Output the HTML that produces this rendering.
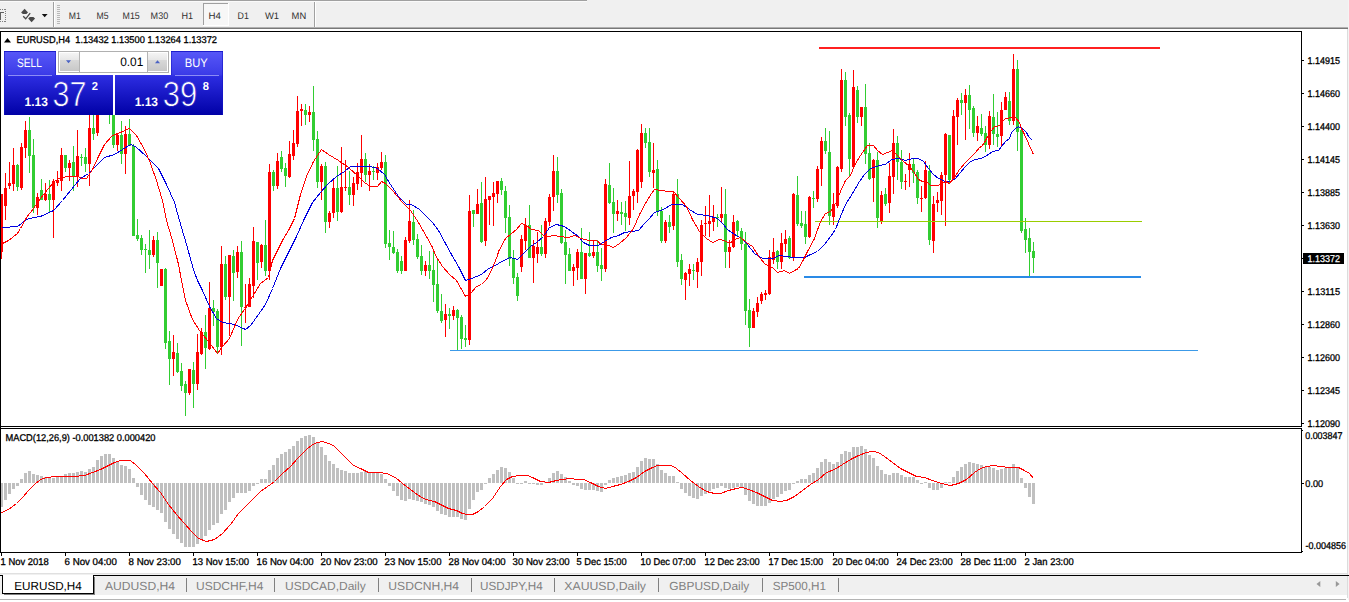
<!DOCTYPE html>
<html lang="en"><head><meta charset="utf-8"><title>EURUSD,H4</title>
<style>html,body{margin:0;padding:0;background:#fff;overflow:hidden}body{width:1349px;height:602px;font-family:"Liberation Sans",sans-serif}</style>
</head><body>
<svg width="1349" height="602" viewBox="0 0 1349 602" text-rendering="geometricPrecision" style="display:block;font-family:'Liberation Sans',sans-serif;text-rendering:geometricPrecision">
<defs>
<linearGradient id="gb" x1="0" y1="0" x2="0" y2="1"><stop offset="0" stop-color="#4a4aee"/><stop offset="0.45" stop-color="#2a2adc"/><stop offset="1" stop-color="#0000a8"/></linearGradient>
<linearGradient id="gbt" x1="0" y1="0" x2="0" y2="1"><stop offset="0" stop-color="#5050f0"/><stop offset="1" stop-color="#3a3ae4"/></linearGradient>
<linearGradient id="gbl" x1="0" y1="0" x2="0" y2="1"><stop offset="0" stop-color="#3030e0"/><stop offset="1" stop-color="#0000a8"/></linearGradient>
<linearGradient id="gsp" x1="0" y1="0" x2="0" y2="1"><stop offset="0" stop-color="#f4f4f4"/><stop offset="0.36" stop-color="#e8e8e8"/><stop offset="0.41" stop-color="#d8d8d8"/><stop offset="1" stop-color="#c8c8c8"/></linearGradient>
<linearGradient id="gbu" gradientUnits="userSpaceOnUse" x1="0" y1="51" x2="0" y2="115"><stop offset="0" stop-color="#5858f8"/><stop offset="0.36" stop-color="#3c3ce8"/><stop offset="0.40" stop-color="#2c2ce0"/><stop offset="1" stop-color="#0000a6"/></linearGradient>
<clipPath id="cpm"><rect x="1" y="32" width="1300" height="394"/></clipPath>
<clipPath id="cpi"><rect x="1" y="429" width="1300" height="123"/></clipPath>
</defs>
<rect x="0" y="0" width="1349" height="602" fill="#ffffff"/>
<g shape-rendering="crispEdges">
<rect x="0" y="0" width="1349" height="27" fill="#f0f0f0"/>
<rect x="0" y="0" width="587" height="1" fill="#a0a0a0"/>
<rect x="0" y="1" width="587" height="1" fill="#fafafa"/>
<rect x="0" y="27" width="1348" height="1" fill="#b0b0b0"/>
<rect x="0" y="28" width="1348" height="1" fill="#787878"/>
<rect x="0" y="29" width="1348" height="2" fill="#ffffff"/>
<rect x="1347" y="29" width="1" height="569" fill="#dcdcdc"/>
<rect x="1348" y="0" width="1" height="602" fill="#f4f4f4"/>
<rect x="53" y="2" width="1" height="25" fill="#a0a0a0"/>
<rect x="54" y="2" width="1" height="25" fill="#ffffff"/>
<rect x="314" y="2" width="1" height="25" fill="#a0a0a0"/>
<rect x="315" y="2" width="1" height="25" fill="#ffffff"/>
<rect x="57" y="5" width="3" height="1" fill="#b8b8b8"/>
<rect x="57" y="7" width="3" height="1" fill="#b8b8b8"/>
<rect x="57" y="9" width="3" height="1" fill="#b8b8b8"/>
<rect x="57" y="11" width="3" height="1" fill="#b8b8b8"/>
<rect x="57" y="13" width="3" height="1" fill="#b8b8b8"/>
<rect x="57" y="15" width="3" height="1" fill="#b8b8b8"/>
<rect x="57" y="17" width="3" height="1" fill="#b8b8b8"/>
<rect x="57" y="19" width="3" height="1" fill="#b8b8b8"/>
<rect x="57" y="21" width="3" height="1" fill="#b8b8b8"/>
<rect x="57" y="23" width="3" height="1" fill="#b8b8b8"/>
<rect x="203" y="3" width="26" height="23" fill="#f7f7f7"/>
<rect x="203" y="3" width="26" height="1" fill="#a0a0a0"/>
<rect x="203" y="3" width="1" height="23" fill="#a0a0a0"/>
<rect x="228" y="3" width="1" height="23" fill="#ffffff"/>
<rect x="203" y="25" width="26" height="1" fill="#ffffff"/>
<rect x="5" y="9" width="1" height="1" fill="#808080"/>
<rect x="5" y="11" width="1" height="1" fill="#808080"/>
<rect x="5" y="13" width="1" height="1" fill="#808080"/>
<rect x="5" y="15" width="1" height="1" fill="#808080"/>
<rect x="5" y="17" width="1" height="1" fill="#808080"/>
<rect x="5" y="19" width="1" height="1" fill="#808080"/>
<rect x="5" y="21" width="1" height="1" fill="#808080"/>
<rect x="0" y="9" width="1" height="1" fill="#808080"/>
<rect x="0" y="21" width="1" height="1" fill="#808080"/>
<rect x="2" y="9" width="1" height="1" fill="#808080"/>
<rect x="2" y="21" width="1" height="1" fill="#808080"/>
<rect x="4" y="9" width="1" height="1" fill="#808080"/>
<rect x="4" y="21" width="1" height="1" fill="#808080"/>
<rect x="0" y="12" width="4" height="1" fill="#606060"/>
<rect x="0" y="12" width="1" height="8" fill="#606060"/>
</g>
<g fill="#484848">
<path d="M24.6 8.8 L28 12.4 L26.4 14 L22.8 14 L21.1 12.4 Z"/>
<path d="M31.6 22.2 L28.2 18.6 L29.8 17.1 L33.4 17.1 L35.1 18.6 Z"/>
<path d="M23.2 16.3 L25.7 18.8 L30.2 13.2" fill="none" stroke="#484848" stroke-width="1.3"/>
<path d="M41.8 14 L47.6 14 L44.7 17.2 Z" fill="#101010"/>
</g>
<text x="68.7" y="19" font-size="9.6" fill="#303030" textLength="12.0" lengthAdjust="spacingAndGlyphs">M1</text>
<text x="96.6" y="19" font-size="9.6" fill="#303030" textLength="12.0" lengthAdjust="spacingAndGlyphs">M5</text>
<text x="122.6" y="19" font-size="9.6" fill="#303030" textLength="17.2" lengthAdjust="spacingAndGlyphs">M15</text>
<text x="150.6" y="19" font-size="9.6" fill="#303030" textLength="17.6" lengthAdjust="spacingAndGlyphs">M30</text>
<text x="181.5" y="19" font-size="9.6" fill="#303030" textLength="11.6" lengthAdjust="spacingAndGlyphs">H1</text>
<text x="208.6" y="19" font-size="9.6" fill="#303030" textLength="12.4" lengthAdjust="spacingAndGlyphs">H4</text>
<text x="237.6" y="19" font-size="9.6" fill="#303030" textLength="11.3" lengthAdjust="spacingAndGlyphs">D1</text>
<text x="264.9" y="19" font-size="9.6" fill="#303030" textLength="14.2" lengthAdjust="spacingAndGlyphs">W1</text>
<text x="291.6" y="19" font-size="9.6" fill="#303030" textLength="14.6" lengthAdjust="spacingAndGlyphs">MN</text>
<g shape-rendering="crispEdges" fill="#000000">
<rect x="0" y="31" width="1302" height="1"/>
<rect x="0" y="31" width="1" height="522"/>
<rect x="1301" y="31" width="1" height="522"/>
<rect x="0" y="426" width="1302" height="1"/>
<rect x="0" y="428" width="1302" height="1"/>
<rect x="0" y="552" width="1302" height="1"/>
</g>
<g clip-path="url(#cpm)" shape-rendering="crispEdges">
<rect x="1" y="194" width="1" height="65" fill="#ff0000"/>
<rect x="0" y="194" width="3" height="58" fill="#ff0000"/>
<rect x="5" y="173" width="1" height="47" fill="#ff0000"/>
<rect x="4" y="188" width="3" height="18" fill="#ff0000"/>
<rect x="9" y="162" width="1" height="27" fill="#ff0000"/>
<rect x="8" y="183" width="3" height="3" fill="#ff0000"/>
<rect x="13" y="148" width="1" height="43" fill="#ff0000"/>
<rect x="12" y="165" width="3" height="19" fill="#ff0000"/>
<rect x="17" y="164" width="1" height="27" fill="#32cd32"/>
<rect x="16" y="165" width="3" height="22" fill="#32cd32"/>
<rect x="21" y="143" width="1" height="47" fill="#ff0000"/>
<rect x="20" y="147" width="3" height="41" fill="#ff0000"/>
<rect x="25" y="121" width="1" height="37" fill="#ff0000"/>
<rect x="24" y="130" width="3" height="18" fill="#ff0000"/>
<rect x="29" y="117" width="1" height="56" fill="#32cd32"/>
<rect x="28" y="130" width="3" height="26" fill="#32cd32"/>
<rect x="33" y="139" width="1" height="74" fill="#32cd32"/>
<rect x="32" y="155" width="3" height="53" fill="#32cd32"/>
<rect x="37" y="193" width="1" height="22" fill="#ff0000"/>
<rect x="36" y="197" width="3" height="11" fill="#ff0000"/>
<rect x="41" y="179" width="1" height="21" fill="#32cd32"/>
<rect x="40" y="190" width="3" height="10" fill="#32cd32"/>
<rect x="45" y="183" width="1" height="18" fill="#ff0000"/>
<rect x="44" y="194" width="3" height="6" fill="#ff0000"/>
<rect x="49" y="180" width="1" height="32" fill="#32cd32"/>
<rect x="48" y="194" width="3" height="6" fill="#32cd32"/>
<rect x="53" y="179" width="1" height="59" fill="#ff0000"/>
<rect x="52" y="181" width="3" height="19" fill="#ff0000"/>
<rect x="57" y="171" width="1" height="15" fill="#ff0000"/>
<rect x="56" y="180" width="3" height="3" fill="#ff0000"/>
<rect x="61" y="148" width="1" height="43" fill="#ff0000"/>
<rect x="60" y="155" width="3" height="26" fill="#ff0000"/>
<rect x="65" y="155" width="1" height="17" fill="#32cd32"/>
<rect x="64" y="155" width="3" height="13" fill="#32cd32"/>
<rect x="69" y="160" width="1" height="21" fill="#ff0000"/>
<rect x="68" y="163" width="3" height="5" fill="#ff0000"/>
<rect x="73" y="146" width="1" height="45" fill="#32cd32"/>
<rect x="72" y="162" width="3" height="14" fill="#32cd32"/>
<rect x="77" y="130" width="1" height="57" fill="#ff0000"/>
<rect x="76" y="156" width="3" height="20" fill="#ff0000"/>
<rect x="81" y="154" width="1" height="12" fill="#32cd32"/>
<rect x="80" y="157" width="3" height="1" fill="#32cd32"/>
<rect x="85" y="148" width="1" height="24" fill="#32cd32"/>
<rect x="84" y="157" width="3" height="7" fill="#32cd32"/>
<rect x="89" y="100" width="1" height="86" fill="#ff0000"/>
<rect x="88" y="128" width="3" height="36" fill="#ff0000"/>
<rect x="93" y="100" width="1" height="40" fill="#32cd32"/>
<rect x="92" y="128" width="3" height="6" fill="#32cd32"/>
<rect x="97" y="100" width="1" height="36" fill="#ff0000"/>
<rect x="96" y="105" width="3" height="28" fill="#ff0000"/>
<rect x="101" y="95" width="1" height="17" fill="#32cd32"/>
<rect x="100" y="100" width="3" height="10" fill="#32cd32"/>
<rect x="105" y="95" width="1" height="17" fill="#ff0000"/>
<rect x="104" y="100" width="3" height="10" fill="#ff0000"/>
<rect x="109" y="95" width="1" height="29" fill="#32cd32"/>
<rect x="108" y="100" width="3" height="12" fill="#32cd32"/>
<rect x="113" y="100" width="1" height="48" fill="#32cd32"/>
<rect x="112" y="105" width="3" height="40" fill="#32cd32"/>
<rect x="117" y="133" width="1" height="18" fill="#ff0000"/>
<rect x="116" y="135" width="3" height="10" fill="#ff0000"/>
<rect x="121" y="121" width="1" height="43" fill="#32cd32"/>
<rect x="120" y="135" width="3" height="19" fill="#32cd32"/>
<rect x="125" y="126" width="1" height="48" fill="#ff0000"/>
<rect x="124" y="134" width="3" height="20" fill="#ff0000"/>
<rect x="129" y="119" width="1" height="27" fill="#32cd32"/>
<rect x="128" y="134" width="3" height="12" fill="#32cd32"/>
<rect x="133" y="144" width="1" height="92" fill="#32cd32"/>
<rect x="132" y="146" width="3" height="90" fill="#32cd32"/>
<rect x="137" y="219" width="1" height="22" fill="#32cd32"/>
<rect x="136" y="235" width="3" height="4" fill="#32cd32"/>
<rect x="141" y="235" width="1" height="20" fill="#32cd32"/>
<rect x="140" y="238" width="3" height="12" fill="#32cd32"/>
<rect x="145" y="244" width="1" height="29" fill="#32cd32"/>
<rect x="144" y="249" width="3" height="1" fill="#32cd32"/>
<rect x="149" y="230" width="1" height="39" fill="#32cd32"/>
<rect x="148" y="250" width="3" height="5" fill="#32cd32"/>
<rect x="153" y="236" width="1" height="21" fill="#ff0000"/>
<rect x="152" y="240" width="3" height="15" fill="#ff0000"/>
<rect x="157" y="232" width="1" height="56" fill="#32cd32"/>
<rect x="156" y="240" width="3" height="23" fill="#32cd32"/>
<rect x="161" y="269" width="1" height="17" fill="#ff0000"/>
<rect x="160" y="269" width="3" height="17" fill="#ff0000"/>
<rect x="165" y="268" width="1" height="81" fill="#32cd32"/>
<rect x="164" y="269" width="3" height="74" fill="#32cd32"/>
<rect x="169" y="331" width="1" height="54" fill="#32cd32"/>
<rect x="168" y="341" width="3" height="18" fill="#32cd32"/>
<rect x="173" y="335" width="1" height="41" fill="#ff0000"/>
<rect x="172" y="352" width="3" height="7" fill="#ff0000"/>
<rect x="177" y="343" width="1" height="30" fill="#32cd32"/>
<rect x="176" y="353" width="3" height="19" fill="#32cd32"/>
<rect x="181" y="363" width="1" height="28" fill="#32cd32"/>
<rect x="180" y="371" width="3" height="15" fill="#32cd32"/>
<rect x="185" y="381" width="1" height="35" fill="#32cd32"/>
<rect x="184" y="384" width="3" height="9" fill="#32cd32"/>
<rect x="189" y="369" width="1" height="26" fill="#ff0000"/>
<rect x="188" y="369" width="3" height="24" fill="#ff0000"/>
<rect x="193" y="362" width="1" height="46" fill="#32cd32"/>
<rect x="192" y="370" width="3" height="14" fill="#32cd32"/>
<rect x="197" y="334" width="1" height="56" fill="#ff0000"/>
<rect x="196" y="352" width="3" height="32" fill="#ff0000"/>
<rect x="201" y="328" width="1" height="27" fill="#ff0000"/>
<rect x="200" y="332" width="3" height="22" fill="#ff0000"/>
<rect x="205" y="315" width="1" height="54" fill="#32cd32"/>
<rect x="204" y="332" width="3" height="16" fill="#32cd32"/>
<rect x="209" y="282" width="1" height="68" fill="#ff0000"/>
<rect x="208" y="308" width="3" height="41" fill="#ff0000"/>
<rect x="213" y="300" width="1" height="26" fill="#32cd32"/>
<rect x="212" y="308" width="3" height="4" fill="#32cd32"/>
<rect x="217" y="309" width="1" height="45" fill="#32cd32"/>
<rect x="216" y="311" width="3" height="36" fill="#32cd32"/>
<rect x="221" y="246" width="1" height="109" fill="#ff0000"/>
<rect x="220" y="264" width="3" height="83" fill="#ff0000"/>
<rect x="225" y="256" width="1" height="44" fill="#32cd32"/>
<rect x="224" y="264" width="3" height="33" fill="#32cd32"/>
<rect x="229" y="255" width="1" height="81" fill="#ff0000"/>
<rect x="228" y="255" width="3" height="42" fill="#ff0000"/>
<rect x="233" y="250" width="1" height="51" fill="#32cd32"/>
<rect x="232" y="256" width="3" height="17" fill="#32cd32"/>
<rect x="237" y="246" width="1" height="32" fill="#ff0000"/>
<rect x="236" y="252" width="3" height="20" fill="#ff0000"/>
<rect x="241" y="241" width="1" height="105" fill="#32cd32"/>
<rect x="240" y="252" width="3" height="55" fill="#32cd32"/>
<rect x="245" y="284" width="1" height="39" fill="#ff0000"/>
<rect x="244" y="307" width="3" height="1" fill="#ff0000"/>
<rect x="249" y="278" width="1" height="29" fill="#ff0000"/>
<rect x="248" y="284" width="3" height="23" fill="#ff0000"/>
<rect x="253" y="227" width="1" height="71" fill="#ff0000"/>
<rect x="252" y="241" width="3" height="45" fill="#ff0000"/>
<rect x="257" y="242" width="1" height="38" fill="#32cd32"/>
<rect x="256" y="242" width="3" height="21" fill="#32cd32"/>
<rect x="261" y="244" width="1" height="24" fill="#ff0000"/>
<rect x="260" y="245" width="3" height="17" fill="#ff0000"/>
<rect x="265" y="220" width="1" height="56" fill="#32cd32"/>
<rect x="264" y="245" width="3" height="26" fill="#32cd32"/>
<rect x="269" y="164" width="1" height="116" fill="#ff0000"/>
<rect x="268" y="172" width="3" height="99" fill="#ff0000"/>
<rect x="273" y="170" width="1" height="21" fill="#32cd32"/>
<rect x="272" y="172" width="3" height="14" fill="#32cd32"/>
<rect x="277" y="153" width="1" height="36" fill="#ff0000"/>
<rect x="276" y="161" width="3" height="25" fill="#ff0000"/>
<rect x="281" y="151" width="1" height="21" fill="#32cd32"/>
<rect x="280" y="157" width="3" height="12" fill="#32cd32"/>
<rect x="285" y="163" width="1" height="24" fill="#32cd32"/>
<rect x="284" y="168" width="3" height="8" fill="#32cd32"/>
<rect x="289" y="141" width="1" height="37" fill="#ff0000"/>
<rect x="288" y="154" width="3" height="23" fill="#ff0000"/>
<rect x="293" y="130" width="1" height="30" fill="#ff0000"/>
<rect x="292" y="143" width="3" height="13" fill="#ff0000"/>
<rect x="297" y="96" width="1" height="51" fill="#ff0000"/>
<rect x="296" y="111" width="3" height="33" fill="#ff0000"/>
<rect x="301" y="104" width="1" height="22" fill="#ff0000"/>
<rect x="300" y="109" width="3" height="2" fill="#ff0000"/>
<rect x="305" y="104" width="1" height="21" fill="#32cd32"/>
<rect x="304" y="110" width="3" height="5" fill="#32cd32"/>
<rect x="309" y="106" width="1" height="16" fill="#ff0000"/>
<rect x="308" y="112" width="3" height="3" fill="#ff0000"/>
<rect x="313" y="86" width="1" height="65" fill="#32cd32"/>
<rect x="312" y="112" width="3" height="28" fill="#32cd32"/>
<rect x="317" y="131" width="1" height="57" fill="#32cd32"/>
<rect x="316" y="139" width="3" height="43" fill="#32cd32"/>
<rect x="321" y="164" width="1" height="36" fill="#ff0000"/>
<rect x="320" y="166" width="3" height="16" fill="#ff0000"/>
<rect x="325" y="162" width="1" height="71" fill="#32cd32"/>
<rect x="324" y="166" width="3" height="56" fill="#32cd32"/>
<rect x="329" y="211" width="1" height="17" fill="#ff0000"/>
<rect x="328" y="213" width="3" height="9" fill="#ff0000"/>
<rect x="333" y="179" width="1" height="39" fill="#ff0000"/>
<rect x="332" y="188" width="3" height="25" fill="#ff0000"/>
<rect x="337" y="166" width="1" height="55" fill="#32cd32"/>
<rect x="336" y="188" width="3" height="24" fill="#32cd32"/>
<rect x="341" y="147" width="1" height="66" fill="#ff0000"/>
<rect x="340" y="187" width="3" height="25" fill="#ff0000"/>
<rect x="345" y="160" width="1" height="31" fill="#ff0000"/>
<rect x="344" y="187" width="3" height="1" fill="#ff0000"/>
<rect x="349" y="171" width="1" height="34" fill="#32cd32"/>
<rect x="348" y="187" width="3" height="8" fill="#32cd32"/>
<rect x="353" y="177" width="1" height="29" fill="#ff0000"/>
<rect x="352" y="183" width="3" height="12" fill="#ff0000"/>
<rect x="357" y="163" width="1" height="27" fill="#ff0000"/>
<rect x="356" y="172" width="3" height="12" fill="#ff0000"/>
<rect x="361" y="135" width="1" height="52" fill="#ff0000"/>
<rect x="360" y="159" width="3" height="14" fill="#ff0000"/>
<rect x="365" y="153" width="1" height="29" fill="#32cd32"/>
<rect x="364" y="159" width="3" height="16" fill="#32cd32"/>
<rect x="369" y="164" width="1" height="27" fill="#ff0000"/>
<rect x="368" y="171" width="3" height="4" fill="#ff0000"/>
<rect x="373" y="166" width="1" height="14" fill="#32cd32"/>
<rect x="372" y="171" width="3" height="1" fill="#32cd32"/>
<rect x="377" y="163" width="1" height="17" fill="#ff0000"/>
<rect x="376" y="167" width="3" height="6" fill="#ff0000"/>
<rect x="381" y="152" width="1" height="18" fill="#ff0000"/>
<rect x="380" y="162" width="3" height="6" fill="#ff0000"/>
<rect x="385" y="155" width="1" height="93" fill="#32cd32"/>
<rect x="384" y="162" width="3" height="82" fill="#32cd32"/>
<rect x="389" y="230" width="1" height="30" fill="#32cd32"/>
<rect x="388" y="243" width="3" height="4" fill="#32cd32"/>
<rect x="393" y="231" width="1" height="23" fill="#32cd32"/>
<rect x="392" y="247" width="3" height="6" fill="#32cd32"/>
<rect x="397" y="249" width="1" height="24" fill="#32cd32"/>
<rect x="396" y="252" width="3" height="19" fill="#32cd32"/>
<rect x="401" y="256" width="1" height="18" fill="#32cd32"/>
<rect x="400" y="261" width="3" height="10" fill="#32cd32"/>
<rect x="405" y="237" width="1" height="34" fill="#ff0000"/>
<rect x="404" y="240" width="3" height="31" fill="#ff0000"/>
<rect x="409" y="200" width="1" height="43" fill="#ff0000"/>
<rect x="408" y="221" width="3" height="20" fill="#ff0000"/>
<rect x="413" y="210" width="1" height="35" fill="#32cd32"/>
<rect x="412" y="222" width="3" height="18" fill="#32cd32"/>
<rect x="417" y="234" width="1" height="25" fill="#32cd32"/>
<rect x="416" y="239" width="3" height="18" fill="#32cd32"/>
<rect x="421" y="245" width="1" height="30" fill="#32cd32"/>
<rect x="420" y="256" width="3" height="15" fill="#32cd32"/>
<rect x="425" y="261" width="1" height="15" fill="#ff0000"/>
<rect x="424" y="265" width="3" height="6" fill="#ff0000"/>
<rect x="429" y="251" width="1" height="28" fill="#32cd32"/>
<rect x="428" y="265" width="3" height="6" fill="#32cd32"/>
<rect x="433" y="252" width="1" height="50" fill="#32cd32"/>
<rect x="432" y="270" width="3" height="15" fill="#32cd32"/>
<rect x="437" y="260" width="1" height="53" fill="#32cd32"/>
<rect x="436" y="284" width="3" height="27" fill="#32cd32"/>
<rect x="441" y="294" width="1" height="29" fill="#32cd32"/>
<rect x="440" y="311" width="3" height="10" fill="#32cd32"/>
<rect x="445" y="304" width="1" height="33" fill="#ff0000"/>
<rect x="444" y="314" width="3" height="6" fill="#ff0000"/>
<rect x="449" y="308" width="1" height="21" fill="#32cd32"/>
<rect x="448" y="314" width="3" height="2" fill="#32cd32"/>
<rect x="453" y="306" width="1" height="14" fill="#ff0000"/>
<rect x="452" y="310" width="3" height="6" fill="#ff0000"/>
<rect x="457" y="309" width="1" height="41" fill="#32cd32"/>
<rect x="456" y="310" width="3" height="8" fill="#32cd32"/>
<rect x="461" y="315" width="1" height="34" fill="#32cd32"/>
<rect x="460" y="317" width="3" height="22" fill="#32cd32"/>
<rect x="465" y="325" width="1" height="22" fill="#32cd32"/>
<rect x="464" y="338" width="3" height="2" fill="#32cd32"/>
<rect x="469" y="195" width="1" height="150" fill="#ff0000"/>
<rect x="468" y="211" width="3" height="129" fill="#ff0000"/>
<rect x="473" y="210" width="1" height="17" fill="#32cd32"/>
<rect x="472" y="210" width="3" height="4" fill="#32cd32"/>
<rect x="477" y="189" width="1" height="25" fill="#ff0000"/>
<rect x="476" y="204" width="3" height="10" fill="#ff0000"/>
<rect x="481" y="182" width="1" height="61" fill="#32cd32"/>
<rect x="480" y="203" width="3" height="39" fill="#32cd32"/>
<rect x="485" y="177" width="1" height="69" fill="#ff0000"/>
<rect x="484" y="199" width="3" height="42" fill="#ff0000"/>
<rect x="489" y="196" width="1" height="29" fill="#ff0000"/>
<rect x="488" y="196" width="3" height="4" fill="#ff0000"/>
<rect x="493" y="182" width="1" height="44" fill="#ff0000"/>
<rect x="492" y="193" width="3" height="4" fill="#ff0000"/>
<rect x="497" y="181" width="1" height="22" fill="#ff0000"/>
<rect x="496" y="181" width="3" height="13" fill="#ff0000"/>
<rect x="501" y="178" width="1" height="17" fill="#32cd32"/>
<rect x="500" y="181" width="3" height="9" fill="#32cd32"/>
<rect x="505" y="186" width="1" height="47" fill="#32cd32"/>
<rect x="504" y="191" width="3" height="27" fill="#32cd32"/>
<rect x="509" y="205" width="1" height="61" fill="#32cd32"/>
<rect x="508" y="217" width="3" height="42" fill="#32cd32"/>
<rect x="513" y="250" width="1" height="34" fill="#32cd32"/>
<rect x="512" y="258" width="3" height="20" fill="#32cd32"/>
<rect x="517" y="273" width="1" height="28" fill="#32cd32"/>
<rect x="516" y="277" width="3" height="19" fill="#32cd32"/>
<rect x="521" y="235" width="1" height="37" fill="#ff0000"/>
<rect x="520" y="239" width="3" height="28" fill="#ff0000"/>
<rect x="525" y="218" width="1" height="32" fill="#ff0000"/>
<rect x="524" y="225" width="3" height="16" fill="#ff0000"/>
<rect x="529" y="205" width="1" height="53" fill="#32cd32"/>
<rect x="528" y="225" width="3" height="33" fill="#32cd32"/>
<rect x="533" y="240" width="1" height="43" fill="#ff0000"/>
<rect x="532" y="246" width="3" height="12" fill="#ff0000"/>
<rect x="537" y="232" width="1" height="31" fill="#ff0000"/>
<rect x="536" y="247" width="3" height="7" fill="#ff0000"/>
<rect x="541" y="225" width="1" height="31" fill="#32cd32"/>
<rect x="540" y="247" width="3" height="7" fill="#32cd32"/>
<rect x="545" y="218" width="1" height="40" fill="#ff0000"/>
<rect x="544" y="221" width="3" height="33" fill="#ff0000"/>
<rect x="549" y="194" width="1" height="32" fill="#ff0000"/>
<rect x="548" y="197" width="3" height="25" fill="#ff0000"/>
<rect x="553" y="155" width="1" height="56" fill="#ff0000"/>
<rect x="552" y="171" width="3" height="26" fill="#ff0000"/>
<rect x="557" y="157" width="1" height="46" fill="#32cd32"/>
<rect x="556" y="171" width="3" height="24" fill="#32cd32"/>
<rect x="561" y="189" width="1" height="55" fill="#32cd32"/>
<rect x="560" y="193" width="3" height="50" fill="#32cd32"/>
<rect x="565" y="230" width="1" height="54" fill="#32cd32"/>
<rect x="564" y="242" width="3" height="13" fill="#32cd32"/>
<rect x="569" y="248" width="1" height="23" fill="#32cd32"/>
<rect x="568" y="254" width="3" height="17" fill="#32cd32"/>
<rect x="573" y="264" width="1" height="22" fill="#ff0000"/>
<rect x="572" y="267" width="3" height="4" fill="#ff0000"/>
<rect x="577" y="249" width="1" height="31" fill="#ff0000"/>
<rect x="576" y="252" width="3" height="16" fill="#ff0000"/>
<rect x="581" y="228" width="1" height="51" fill="#32cd32"/>
<rect x="580" y="252" width="3" height="27" fill="#32cd32"/>
<rect x="585" y="253" width="1" height="41" fill="#ff0000"/>
<rect x="584" y="253" width="3" height="26" fill="#ff0000"/>
<rect x="589" y="232" width="1" height="25" fill="#32cd32"/>
<rect x="588" y="253" width="3" height="3" fill="#32cd32"/>
<rect x="593" y="240" width="1" height="18" fill="#ff0000"/>
<rect x="592" y="252" width="3" height="4" fill="#ff0000"/>
<rect x="597" y="240" width="1" height="32" fill="#32cd32"/>
<rect x="596" y="252" width="3" height="14" fill="#32cd32"/>
<rect x="601" y="248" width="1" height="33" fill="#32cd32"/>
<rect x="600" y="265" width="3" height="4" fill="#32cd32"/>
<rect x="605" y="179" width="1" height="93" fill="#ff0000"/>
<rect x="604" y="184" width="3" height="85" fill="#ff0000"/>
<rect x="609" y="163" width="1" height="41" fill="#32cd32"/>
<rect x="608" y="185" width="3" height="18" fill="#32cd32"/>
<rect x="613" y="188" width="1" height="45" fill="#32cd32"/>
<rect x="612" y="202" width="3" height="12" fill="#32cd32"/>
<rect x="617" y="200" width="1" height="21" fill="#ff0000"/>
<rect x="616" y="211" width="3" height="3" fill="#ff0000"/>
<rect x="621" y="202" width="1" height="23" fill="#32cd32"/>
<rect x="620" y="212" width="3" height="2" fill="#32cd32"/>
<rect x="625" y="201" width="1" height="30" fill="#32cd32"/>
<rect x="624" y="213" width="3" height="4" fill="#32cd32"/>
<rect x="629" y="161" width="1" height="64" fill="#ff0000"/>
<rect x="628" y="196" width="3" height="22" fill="#ff0000"/>
<rect x="633" y="189" width="1" height="21" fill="#ff0000"/>
<rect x="632" y="191" width="3" height="5" fill="#ff0000"/>
<rect x="637" y="149" width="1" height="54" fill="#ff0000"/>
<rect x="636" y="150" width="3" height="42" fill="#ff0000"/>
<rect x="641" y="124" width="1" height="64" fill="#ff0000"/>
<rect x="640" y="133" width="3" height="49" fill="#ff0000"/>
<rect x="645" y="128" width="1" height="20" fill="#32cd32"/>
<rect x="644" y="133" width="3" height="10" fill="#32cd32"/>
<rect x="649" y="128" width="1" height="49" fill="#32cd32"/>
<rect x="648" y="142" width="3" height="30" fill="#32cd32"/>
<rect x="653" y="143" width="1" height="45" fill="#ff0000"/>
<rect x="652" y="170" width="3" height="3" fill="#ff0000"/>
<rect x="657" y="160" width="1" height="56" fill="#32cd32"/>
<rect x="656" y="169" width="3" height="43" fill="#32cd32"/>
<rect x="661" y="207" width="1" height="36" fill="#32cd32"/>
<rect x="660" y="211" width="3" height="30" fill="#32cd32"/>
<rect x="665" y="220" width="1" height="23" fill="#ff0000"/>
<rect x="664" y="222" width="3" height="19" fill="#ff0000"/>
<rect x="669" y="215" width="1" height="18" fill="#32cd32"/>
<rect x="668" y="222" width="3" height="5" fill="#32cd32"/>
<rect x="673" y="191" width="1" height="39" fill="#ff0000"/>
<rect x="672" y="194" width="3" height="32" fill="#ff0000"/>
<rect x="677" y="179" width="1" height="88" fill="#32cd32"/>
<rect x="676" y="194" width="3" height="68" fill="#32cd32"/>
<rect x="681" y="254" width="1" height="31" fill="#32cd32"/>
<rect x="680" y="260" width="3" height="19" fill="#32cd32"/>
<rect x="685" y="272" width="1" height="28" fill="#ff0000"/>
<rect x="684" y="273" width="3" height="7" fill="#ff0000"/>
<rect x="689" y="264" width="1" height="22" fill="#ff0000"/>
<rect x="688" y="269" width="3" height="5" fill="#ff0000"/>
<rect x="693" y="264" width="1" height="16" fill="#32cd32"/>
<rect x="692" y="270" width="3" height="1" fill="#32cd32"/>
<rect x="697" y="258" width="1" height="30" fill="#ff0000"/>
<rect x="696" y="262" width="3" height="10" fill="#ff0000"/>
<rect x="701" y="220" width="1" height="56" fill="#ff0000"/>
<rect x="700" y="225" width="3" height="37" fill="#ff0000"/>
<rect x="705" y="206" width="1" height="30" fill="#ff0000"/>
<rect x="704" y="223" width="3" height="1" fill="#ff0000"/>
<rect x="709" y="195" width="1" height="42" fill="#ff0000"/>
<rect x="708" y="221" width="3" height="3" fill="#ff0000"/>
<rect x="713" y="205" width="1" height="26" fill="#ff0000"/>
<rect x="712" y="217" width="3" height="5" fill="#ff0000"/>
<rect x="717" y="214" width="1" height="13" fill="#32cd32"/>
<rect x="716" y="217" width="3" height="1" fill="#32cd32"/>
<rect x="721" y="187" width="1" height="35" fill="#ff0000"/>
<rect x="720" y="214" width="3" height="4" fill="#ff0000"/>
<rect x="725" y="189" width="1" height="79" fill="#32cd32"/>
<rect x="724" y="214" width="3" height="38" fill="#32cd32"/>
<rect x="729" y="240" width="1" height="28" fill="#ff0000"/>
<rect x="728" y="247" width="3" height="5" fill="#ff0000"/>
<rect x="733" y="215" width="1" height="33" fill="#ff0000"/>
<rect x="732" y="222" width="3" height="25" fill="#ff0000"/>
<rect x="737" y="220" width="1" height="16" fill="#32cd32"/>
<rect x="736" y="221" width="3" height="10" fill="#32cd32"/>
<rect x="741" y="228" width="1" height="22" fill="#32cd32"/>
<rect x="740" y="231" width="3" height="13" fill="#32cd32"/>
<rect x="745" y="232" width="1" height="93" fill="#32cd32"/>
<rect x="744" y="244" width="3" height="67" fill="#32cd32"/>
<rect x="749" y="299" width="1" height="48" fill="#32cd32"/>
<rect x="748" y="310" width="3" height="18" fill="#32cd32"/>
<rect x="753" y="308" width="1" height="20" fill="#ff0000"/>
<rect x="752" y="311" width="3" height="17" fill="#ff0000"/>
<rect x="757" y="297" width="1" height="20" fill="#ff0000"/>
<rect x="756" y="303" width="3" height="9" fill="#ff0000"/>
<rect x="761" y="292" width="1" height="12" fill="#ff0000"/>
<rect x="760" y="294" width="3" height="7" fill="#ff0000"/>
<rect x="765" y="290" width="1" height="10" fill="#ff0000"/>
<rect x="764" y="293" width="3" height="2" fill="#ff0000"/>
<rect x="769" y="250" width="1" height="45" fill="#ff0000"/>
<rect x="768" y="257" width="3" height="37" fill="#ff0000"/>
<rect x="773" y="238" width="1" height="26" fill="#ff0000"/>
<rect x="772" y="252" width="3" height="8" fill="#ff0000"/>
<rect x="777" y="250" width="1" height="19" fill="#32cd32"/>
<rect x="776" y="251" width="3" height="11" fill="#32cd32"/>
<rect x="781" y="233" width="1" height="36" fill="#ff0000"/>
<rect x="780" y="243" width="3" height="19" fill="#ff0000"/>
<rect x="785" y="230" width="1" height="22" fill="#ff0000"/>
<rect x="784" y="239" width="3" height="5" fill="#ff0000"/>
<rect x="789" y="236" width="1" height="23" fill="#32cd32"/>
<rect x="788" y="238" width="3" height="20" fill="#32cd32"/>
<rect x="793" y="193" width="1" height="68" fill="#ff0000"/>
<rect x="792" y="194" width="3" height="63" fill="#ff0000"/>
<rect x="797" y="176" width="1" height="50" fill="#32cd32"/>
<rect x="796" y="195" width="3" height="29" fill="#32cd32"/>
<rect x="801" y="211" width="1" height="17" fill="#32cd32"/>
<rect x="800" y="223" width="3" height="3" fill="#32cd32"/>
<rect x="805" y="211" width="1" height="33" fill="#32cd32"/>
<rect x="804" y="224" width="3" height="13" fill="#32cd32"/>
<rect x="809" y="196" width="1" height="42" fill="#ff0000"/>
<rect x="808" y="197" width="3" height="40" fill="#ff0000"/>
<rect x="813" y="191" width="1" height="17" fill="#32cd32"/>
<rect x="812" y="198" width="3" height="1" fill="#32cd32"/>
<rect x="817" y="166" width="1" height="36" fill="#ff0000"/>
<rect x="816" y="169" width="3" height="30" fill="#ff0000"/>
<rect x="821" y="137" width="1" height="49" fill="#ff0000"/>
<rect x="820" y="141" width="3" height="28" fill="#ff0000"/>
<rect x="825" y="128" width="1" height="26" fill="#32cd32"/>
<rect x="824" y="141" width="3" height="10" fill="#32cd32"/>
<rect x="829" y="131" width="1" height="94" fill="#32cd32"/>
<rect x="828" y="152" width="3" height="64" fill="#32cd32"/>
<rect x="833" y="193" width="1" height="32" fill="#ff0000"/>
<rect x="832" y="204" width="3" height="13" fill="#ff0000"/>
<rect x="837" y="166" width="1" height="42" fill="#ff0000"/>
<rect x="836" y="167" width="3" height="39" fill="#ff0000"/>
<rect x="841" y="69" width="1" height="103" fill="#ff0000"/>
<rect x="840" y="80" width="3" height="89" fill="#ff0000"/>
<rect x="845" y="72" width="1" height="54" fill="#32cd32"/>
<rect x="844" y="80" width="3" height="37" fill="#32cd32"/>
<rect x="849" y="113" width="1" height="64" fill="#32cd32"/>
<rect x="848" y="115" width="3" height="44" fill="#32cd32"/>
<rect x="853" y="70" width="1" height="97" fill="#ff0000"/>
<rect x="852" y="87" width="3" height="80" fill="#ff0000"/>
<rect x="857" y="86" width="1" height="37" fill="#32cd32"/>
<rect x="856" y="90" width="3" height="27" fill="#32cd32"/>
<rect x="861" y="107" width="1" height="19" fill="#ff0000"/>
<rect x="860" y="107" width="3" height="10" fill="#ff0000"/>
<rect x="865" y="84" width="1" height="80" fill="#32cd32"/>
<rect x="864" y="107" width="3" height="47" fill="#32cd32"/>
<rect x="869" y="143" width="1" height="37" fill="#32cd32"/>
<rect x="868" y="153" width="3" height="26" fill="#32cd32"/>
<rect x="873" y="159" width="1" height="43" fill="#ff0000"/>
<rect x="872" y="160" width="3" height="18" fill="#ff0000"/>
<rect x="877" y="152" width="1" height="76" fill="#32cd32"/>
<rect x="876" y="160" width="3" height="58" fill="#32cd32"/>
<rect x="881" y="191" width="1" height="33" fill="#ff0000"/>
<rect x="880" y="195" width="3" height="26" fill="#ff0000"/>
<rect x="885" y="188" width="1" height="18" fill="#32cd32"/>
<rect x="884" y="194" width="3" height="10" fill="#32cd32"/>
<rect x="889" y="163" width="1" height="50" fill="#ff0000"/>
<rect x="888" y="176" width="3" height="27" fill="#ff0000"/>
<rect x="893" y="129" width="1" height="65" fill="#ff0000"/>
<rect x="892" y="143" width="3" height="34" fill="#ff0000"/>
<rect x="897" y="136" width="1" height="44" fill="#32cd32"/>
<rect x="896" y="143" width="3" height="19" fill="#32cd32"/>
<rect x="901" y="150" width="1" height="39" fill="#32cd32"/>
<rect x="900" y="162" width="3" height="20" fill="#32cd32"/>
<rect x="905" y="174" width="1" height="16" fill="#ff0000"/>
<rect x="904" y="181" width="3" height="1" fill="#ff0000"/>
<rect x="909" y="153" width="1" height="34" fill="#ff0000"/>
<rect x="908" y="164" width="3" height="6" fill="#ff0000"/>
<rect x="913" y="158" width="1" height="25" fill="#32cd32"/>
<rect x="912" y="164" width="3" height="9" fill="#32cd32"/>
<rect x="917" y="170" width="1" height="34" fill="#32cd32"/>
<rect x="916" y="172" width="3" height="26" fill="#32cd32"/>
<rect x="921" y="186" width="1" height="26" fill="#ff0000"/>
<rect x="920" y="198" width="3" height="1" fill="#ff0000"/>
<rect x="925" y="161" width="1" height="38" fill="#ff0000"/>
<rect x="924" y="170" width="3" height="28" fill="#ff0000"/>
<rect x="929" y="165" width="1" height="80" fill="#32cd32"/>
<rect x="928" y="171" width="3" height="69" fill="#32cd32"/>
<rect x="933" y="196" width="1" height="57" fill="#ff0000"/>
<rect x="932" y="204" width="3" height="37" fill="#ff0000"/>
<rect x="937" y="192" width="1" height="20" fill="#ff0000"/>
<rect x="936" y="200" width="3" height="3" fill="#ff0000"/>
<rect x="941" y="172" width="1" height="43" fill="#ff0000"/>
<rect x="940" y="175" width="3" height="26" fill="#ff0000"/>
<rect x="945" y="133" width="1" height="93" fill="#ff0000"/>
<rect x="944" y="134" width="3" height="41" fill="#ff0000"/>
<rect x="949" y="135" width="1" height="48" fill="#32cd32"/>
<rect x="948" y="135" width="3" height="45" fill="#32cd32"/>
<rect x="953" y="110" width="1" height="70" fill="#ff0000"/>
<rect x="952" y="116" width="3" height="64" fill="#ff0000"/>
<rect x="957" y="98" width="1" height="47" fill="#ff0000"/>
<rect x="956" y="100" width="3" height="17" fill="#ff0000"/>
<rect x="961" y="93" width="1" height="22" fill="#32cd32"/>
<rect x="960" y="100" width="3" height="3" fill="#32cd32"/>
<rect x="965" y="89" width="1" height="51" fill="#ff0000"/>
<rect x="964" y="95" width="3" height="8" fill="#ff0000"/>
<rect x="969" y="85" width="1" height="44" fill="#32cd32"/>
<rect x="968" y="95" width="3" height="15" fill="#32cd32"/>
<rect x="973" y="106" width="1" height="31" fill="#32cd32"/>
<rect x="972" y="108" width="3" height="25" fill="#32cd32"/>
<rect x="977" y="116" width="1" height="25" fill="#ff0000"/>
<rect x="976" y="126" width="3" height="7" fill="#ff0000"/>
<rect x="981" y="114" width="1" height="22" fill="#32cd32"/>
<rect x="980" y="128" width="3" height="6" fill="#32cd32"/>
<rect x="985" y="126" width="1" height="26" fill="#32cd32"/>
<rect x="984" y="133" width="3" height="12" fill="#32cd32"/>
<rect x="989" y="111" width="1" height="38" fill="#ff0000"/>
<rect x="988" y="116" width="3" height="29" fill="#ff0000"/>
<rect x="993" y="94" width="1" height="51" fill="#32cd32"/>
<rect x="992" y="117" width="3" height="17" fill="#32cd32"/>
<rect x="997" y="112" width="1" height="35" fill="#32cd32"/>
<rect x="996" y="134" width="3" height="3" fill="#32cd32"/>
<rect x="1001" y="102" width="1" height="44" fill="#ff0000"/>
<rect x="1000" y="110" width="3" height="26" fill="#ff0000"/>
<rect x="1005" y="92" width="1" height="18" fill="#ff0000"/>
<rect x="1004" y="97" width="3" height="13" fill="#ff0000"/>
<rect x="1009" y="92" width="1" height="33" fill="#32cd32"/>
<rect x="1008" y="101" width="3" height="20" fill="#32cd32"/>
<rect x="1013" y="54" width="1" height="71" fill="#ff0000"/>
<rect x="1012" y="69" width="3" height="52" fill="#ff0000"/>
<rect x="1017" y="60" width="1" height="91" fill="#32cd32"/>
<rect x="1016" y="69" width="3" height="63" fill="#32cd32"/>
<rect x="1021" y="130" width="1" height="103" fill="#32cd32"/>
<rect x="1020" y="130" width="3" height="101" fill="#32cd32"/>
<rect x="1025" y="218" width="1" height="35" fill="#32cd32"/>
<rect x="1024" y="229" width="3" height="11" fill="#32cd32"/>
<rect x="1029" y="228" width="1" height="48" fill="#32cd32"/>
<rect x="1028" y="238" width="3" height="14" fill="#32cd32"/>
<rect x="1033" y="242" width="1" height="31" fill="#32cd32"/>
<rect x="1032" y="251" width="3" height="7" fill="#32cd32"/>
</g>
<g shape-rendering="crispEdges">
<rect x="819" y="47" width="341" height="2" fill="#ff2020"/>
<rect x="815" y="221" width="327" height="1" fill="#9acd00"/>
<rect x="804" y="276" width="337" height="2" fill="#2a8ae6"/>
<rect x="450" y="350" width="748" height="1" fill="#3c9ae8"/>
</g>
<g clip-path="url(#cpm)">
<polyline points="2.5,227.5 17.5,226.5 26.5,219.5 33.5,217.5 40.5,216.5 53.5,210.5 62.5,200.5 70.5,190.5 80.5,178.5 88.5,173.5 96.5,165.5 104.5,157.5 114.5,154.5 122.5,149.5 130.5,144.5 135.5,146.5 146.5,156.5 158.5,168.5 166.5,184.5 174.5,202.5 179.5,220.5 186.5,244.5 193.5,269.5 197.5,280.5 202.5,290.5 209.5,306.5 216.5,318.5 222.5,322.5 234.5,324.5 245.5,329.5 250.5,325.5 258.5,314.5 265.5,304.5 272.5,288.5 280.5,268.5 289.5,250.5 296.5,236.5 304.5,218.5 312.5,202.5 320.5,192.5 328.5,183.5 336.5,176.5 344.5,171.5 350.5,166.5 358.5,166.5 370.5,166.5 377.5,168.5 384.5,174.5 390.5,184.5 398.5,196.5 406.5,204.5 411.5,204.5 419.5,209.5 428.5,218.5 432.5,222.5 438.5,230.5 445.5,243.5 451.5,254.5 458.5,266.5 465.5,280.5 471.5,278.5 481.5,274.5 488.5,268.5 493.5,266.5 503.5,260.5 510.5,257.5 517.5,259.5 523.5,253.5 530.5,246.5 536.5,242.5 543.5,236.5 549.5,227.5 556.5,224.5 564.5,226.5 571.5,231.5 578.5,236.5 583.5,242.5 589.5,245.5 598.5,245.5 604.5,241.5 611.5,237.5 618.5,235.5 624.5,232.5 631.5,231.5 638.5,230.5 644.5,223.5 648.5,219.5 654.5,212.5 663.5,209.5 671.5,204.5 682.5,204.5 689.5,209.5 697.5,214.5 707.5,215.5 717.5,218.5 722.5,223.5 727.5,229.5 734.5,234.5 741.5,238.5 747.5,244.5 754.5,253.5 762.5,258.5 772.5,258.5 779.5,255.5 785.5,256.5 794.5,257.5 804.5,257.5 810.5,254.5 817.5,251.5 824.5,244.5 830.5,236.5 835.5,229.5 840.5,216.5 845.5,204.5 852.5,193.5 859.5,181.5 864.5,174.5 870.5,168.5 879.5,165.5 885.5,164.5 891.5,159.5 898.5,158.5 905.5,160.5 912.5,158.5 918.5,158.5 923.5,161.5 928.5,168.5 933.5,174.5 938.5,178.5 945.5,181.5 949.5,181.5 954.5,179.5 960.5,172.5 965.5,166.5 970.5,161.5 975.5,159.5 980.5,158.5 985.5,156.5 992.5,151.5 998.5,150.5 1001.5,146.5 1005.5,141.5 1009.5,138.5 1011.5,132.5 1015.5,128.5 1018.5,126.5 1023.5,129.5 1026.5,132.5 1028.5,136.5 1032.5,140.5" fill="none" stroke="#0000e0" stroke-width="1" stroke-linejoin="round" shape-rendering="crispEdges"/>
<polyline points="2.5,243.5 8.5,240.5 17.5,233.5 20.5,228.5 26.5,217.5 33.5,208.5 40.5,198.5 47.5,189.5 54.5,181.5 60.5,177.5 69.5,176.5 77.5,176.5 82.5,178.5 86.5,178.5 92.5,169.5 98.5,156.5 104.5,144.5 112.5,135.5 120.5,132.5 129.5,128.5 136.5,135.5 144.5,149.5 150.5,163.5 156.5,180.5 162.5,200.5 166.5,220.5 172.5,240.5 178.5,264.5 181.5,280.5 185.5,300.5 192.5,319.5 199.5,330.5 211.5,345.5 217.5,353.5 222.5,346.5 229.5,338.5 237.5,319.5 244.5,309.5 252.5,296.5 260.5,283.5 268.5,277.5 272.5,260.5 282.5,240.5 288.5,230.5 294.5,218.5 300.5,194.5 306.5,176.5 313.5,161.5 321.5,149.5 328.5,154.5 338.5,160.5 348.5,167.5 358.5,176.5 364.5,182.5 370.5,186.5 377.5,186.5 381.5,181.5 385.5,183.5 392.5,190.5 402.5,202.5 410.5,210.5 418.5,222.5 426.5,236.5 432.5,247.5 435.5,255.5 442.5,266.5 449.5,274.5 456.5,280.5 465.5,296.5 471.5,292.5 476.5,286.5 481.5,284.5 486.5,279.5 491.5,270.5 497.5,255.5 498.5,251.5 505.5,238.5 511.5,233.5 516.5,229.5 521.5,223.5 526.5,225.5 531.5,229.5 538.5,230.5 543.5,235.5 548.5,236.5 554.5,235.5 559.5,236.5 568.5,237.5 574.5,235.5 581.5,238.5 588.5,240.5 596.5,240.5 601.5,244.5 608.5,245.5 613.5,247.5 619.5,243.5 626.5,237.5 633.5,228.5 639.5,214.5 646.5,201.5 651.5,193.5 654.5,189.5 661.5,190.5 667.5,191.5 673.5,191.5 679.5,198.5 686.5,206.5 692.5,219.5 699.5,231.5 706.5,238.5 712.5,242.5 719.5,239.5 724.5,240.5 729.5,243.5 734.5,239.5 740.5,237.5 746.5,242.5 752.5,246.5 759.5,257.5 765.5,264.5 772.5,267.5 777.5,272.5 784.5,270.5 789.5,273.5 794.5,270.5 798.5,268.5 802.5,261.5 807.5,251.5 814.5,238.5 820.5,221.5 825.5,213.5 830.5,211.5 835.5,204.5 840.5,191.5 845.5,180.5 850.5,175.5 854.5,165.5 860.5,155.5 867.5,145.5 873.5,145.5 877.5,150.5 882.5,154.5 887.5,152.5 892.5,150.5 898.5,156.5 903.5,161.5 908.5,165.5 913.5,171.5 918.5,179.5 922.5,181.5 927.5,182.5 930.5,185.5 937.5,185.5 942.5,183.5 945.5,181.5 949.5,183.5 954.5,177.5 959.5,169.5 965.5,162.5 968.5,159.5 975.5,152.5 979.5,147.5 981.5,146.5 984.5,142.5 987.5,136.5 991.5,130.5 994.5,126.5 997.5,126.5 1000.5,124.5 1003.5,120.5 1005.5,118.5 1013.5,117.5 1015.5,117.5 1019.5,122.5 1021.5,128.5 1024.5,134.5 1028.5,143.5 1033.5,154.5" fill="none" stroke="#ff0000" stroke-width="1" stroke-linejoin="round" shape-rendering="crispEdges"/>
</g>
<g clip-path="url(#cpi)" shape-rendering="crispEdges">
<rect x="0" y="483" width="3" height="24" fill="#c0c0c0"/>
<rect x="4" y="483" width="3" height="17" fill="#c0c0c0"/>
<rect x="8" y="483" width="3" height="11" fill="#c0c0c0"/>
<rect x="12" y="483" width="3" height="6" fill="#c0c0c0"/>
<rect x="16" y="483" width="3" height="3" fill="#c0c0c0"/>
<rect x="20" y="479" width="3" height="4" fill="#c0c0c0"/>
<rect x="24" y="473" width="3" height="10" fill="#c0c0c0"/>
<rect x="28" y="471" width="3" height="12" fill="#c0c0c0"/>
<rect x="32" y="474" width="3" height="9" fill="#c0c0c0"/>
<rect x="36" y="475" width="3" height="8" fill="#c0c0c0"/>
<rect x="40" y="476" width="3" height="7" fill="#c0c0c0"/>
<rect x="44" y="477" width="3" height="6" fill="#c0c0c0"/>
<rect x="48" y="478" width="3" height="5" fill="#c0c0c0"/>
<rect x="52" y="478" width="3" height="5" fill="#c0c0c0"/>
<rect x="56" y="477" width="3" height="6" fill="#c0c0c0"/>
<rect x="60" y="476" width="3" height="7" fill="#c0c0c0"/>
<rect x="64" y="474" width="3" height="9" fill="#c0c0c0"/>
<rect x="68" y="473" width="3" height="10" fill="#c0c0c0"/>
<rect x="72" y="473" width="3" height="10" fill="#c0c0c0"/>
<rect x="76" y="472" width="3" height="11" fill="#c0c0c0"/>
<rect x="80" y="471" width="3" height="12" fill="#c0c0c0"/>
<rect x="84" y="472" width="3" height="11" fill="#c0c0c0"/>
<rect x="88" y="469" width="3" height="14" fill="#c0c0c0"/>
<rect x="92" y="467" width="3" height="16" fill="#c0c0c0"/>
<rect x="96" y="460" width="3" height="23" fill="#c0c0c0"/>
<rect x="100" y="456" width="3" height="27" fill="#c0c0c0"/>
<rect x="104" y="454" width="3" height="29" fill="#c0c0c0"/>
<rect x="108" y="454" width="3" height="29" fill="#c0c0c0"/>
<rect x="112" y="458" width="3" height="25" fill="#c0c0c0"/>
<rect x="116" y="461" width="3" height="22" fill="#c0c0c0"/>
<rect x="120" y="465" width="3" height="18" fill="#c0c0c0"/>
<rect x="124" y="466" width="3" height="17" fill="#c0c0c0"/>
<rect x="128" y="469" width="3" height="14" fill="#c0c0c0"/>
<rect x="132" y="478" width="3" height="5" fill="#c0c0c0"/>
<rect x="136" y="483" width="3" height="4" fill="#c0c0c0"/>
<rect x="140" y="483" width="3" height="12" fill="#c0c0c0"/>
<rect x="144" y="483" width="3" height="17" fill="#c0c0c0"/>
<rect x="148" y="483" width="3" height="22" fill="#c0c0c0"/>
<rect x="152" y="483" width="3" height="24" fill="#c0c0c0"/>
<rect x="156" y="483" width="3" height="27" fill="#c0c0c0"/>
<rect x="160" y="483" width="3" height="30" fill="#c0c0c0"/>
<rect x="164" y="483" width="3" height="39" fill="#c0c0c0"/>
<rect x="168" y="483" width="3" height="46" fill="#c0c0c0"/>
<rect x="172" y="483" width="3" height="51" fill="#c0c0c0"/>
<rect x="176" y="483" width="3" height="56" fill="#c0c0c0"/>
<rect x="180" y="483" width="3" height="60" fill="#c0c0c0"/>
<rect x="184" y="483" width="3" height="64" fill="#c0c0c0"/>
<rect x="188" y="483" width="3" height="64" fill="#c0c0c0"/>
<rect x="192" y="483" width="3" height="64" fill="#c0c0c0"/>
<rect x="196" y="483" width="3" height="61" fill="#c0c0c0"/>
<rect x="200" y="483" width="3" height="57" fill="#c0c0c0"/>
<rect x="204" y="483" width="3" height="53" fill="#c0c0c0"/>
<rect x="208" y="483" width="3" height="47" fill="#c0c0c0"/>
<rect x="212" y="483" width="3" height="42" fill="#c0c0c0"/>
<rect x="216" y="483" width="3" height="40" fill="#c0c0c0"/>
<rect x="220" y="483" width="3" height="31" fill="#c0c0c0"/>
<rect x="224" y="483" width="3" height="27" fill="#c0c0c0"/>
<rect x="228" y="483" width="3" height="19" fill="#c0c0c0"/>
<rect x="232" y="483" width="3" height="15" fill="#c0c0c0"/>
<rect x="236" y="483" width="3" height="10" fill="#c0c0c0"/>
<rect x="240" y="483" width="3" height="10" fill="#c0c0c0"/>
<rect x="244" y="483" width="3" height="10" fill="#c0c0c0"/>
<rect x="248" y="483" width="3" height="8" fill="#c0c0c0"/>
<rect x="252" y="483" width="3" height="3" fill="#c0c0c0"/>
<rect x="256" y="483" width="3" height="1" fill="#c0c0c0"/>
<rect x="260" y="479" width="3" height="4" fill="#c0c0c0"/>
<rect x="264" y="479" width="3" height="4" fill="#c0c0c0"/>
<rect x="268" y="470" width="3" height="13" fill="#c0c0c0"/>
<rect x="272" y="465" width="3" height="18" fill="#c0c0c0"/>
<rect x="276" y="458" width="3" height="25" fill="#c0c0c0"/>
<rect x="280" y="454" width="3" height="29" fill="#c0c0c0"/>
<rect x="284" y="452" width="3" height="31" fill="#c0c0c0"/>
<rect x="288" y="449" width="3" height="34" fill="#c0c0c0"/>
<rect x="292" y="446" width="3" height="37" fill="#c0c0c0"/>
<rect x="296" y="441" width="3" height="42" fill="#c0c0c0"/>
<rect x="300" y="438" width="3" height="45" fill="#c0c0c0"/>
<rect x="304" y="436" width="3" height="47" fill="#c0c0c0"/>
<rect x="308" y="435" width="3" height="48" fill="#c0c0c0"/>
<rect x="312" y="437" width="3" height="46" fill="#c0c0c0"/>
<rect x="316" y="442" width="3" height="41" fill="#c0c0c0"/>
<rect x="320" y="447" width="3" height="36" fill="#c0c0c0"/>
<rect x="324" y="455" width="3" height="28" fill="#c0c0c0"/>
<rect x="328" y="461" width="3" height="22" fill="#c0c0c0"/>
<rect x="332" y="464" width="3" height="19" fill="#c0c0c0"/>
<rect x="336" y="468" width="3" height="15" fill="#c0c0c0"/>
<rect x="340" y="470" width="3" height="13" fill="#c0c0c0"/>
<rect x="344" y="471" width="3" height="12" fill="#c0c0c0"/>
<rect x="348" y="473" width="3" height="10" fill="#c0c0c0"/>
<rect x="352" y="473" width="3" height="10" fill="#c0c0c0"/>
<rect x="356" y="473" width="3" height="10" fill="#c0c0c0"/>
<rect x="360" y="472" width="3" height="11" fill="#c0c0c0"/>
<rect x="364" y="471" width="3" height="12" fill="#c0c0c0"/>
<rect x="368" y="472" width="3" height="11" fill="#c0c0c0"/>
<rect x="372" y="472" width="3" height="11" fill="#c0c0c0"/>
<rect x="376" y="473" width="3" height="10" fill="#c0c0c0"/>
<rect x="380" y="474" width="3" height="9" fill="#c0c0c0"/>
<rect x="384" y="479" width="3" height="4" fill="#c0c0c0"/>
<rect x="388" y="483" width="3" height="3" fill="#c0c0c0"/>
<rect x="392" y="483" width="3" height="8" fill="#c0c0c0"/>
<rect x="396" y="483" width="3" height="13" fill="#c0c0c0"/>
<rect x="400" y="483" width="3" height="17" fill="#c0c0c0"/>
<rect x="404" y="483" width="3" height="18" fill="#c0c0c0"/>
<rect x="408" y="483" width="3" height="16" fill="#c0c0c0"/>
<rect x="412" y="483" width="3" height="17" fill="#c0c0c0"/>
<rect x="416" y="483" width="3" height="18" fill="#c0c0c0"/>
<rect x="420" y="483" width="3" height="19" fill="#c0c0c0"/>
<rect x="424" y="483" width="3" height="21" fill="#c0c0c0"/>
<rect x="428" y="483" width="3" height="22" fill="#c0c0c0"/>
<rect x="432" y="483" width="3" height="24" fill="#c0c0c0"/>
<rect x="436" y="483" width="3" height="28" fill="#c0c0c0"/>
<rect x="440" y="483" width="3" height="31" fill="#c0c0c0"/>
<rect x="444" y="483" width="3" height="32" fill="#c0c0c0"/>
<rect x="448" y="483" width="3" height="34" fill="#c0c0c0"/>
<rect x="452" y="483" width="3" height="34" fill="#c0c0c0"/>
<rect x="456" y="483" width="3" height="34" fill="#c0c0c0"/>
<rect x="460" y="483" width="3" height="36" fill="#c0c0c0"/>
<rect x="464" y="483" width="3" height="37" fill="#c0c0c0"/>
<rect x="468" y="483" width="3" height="26" fill="#c0c0c0"/>
<rect x="472" y="483" width="3" height="17" fill="#c0c0c0"/>
<rect x="476" y="483" width="3" height="9" fill="#c0c0c0"/>
<rect x="480" y="483" width="3" height="7" fill="#c0c0c0"/>
<rect x="484" y="483" width="3" height="1" fill="#c0c0c0"/>
<rect x="488" y="478" width="3" height="5" fill="#c0c0c0"/>
<rect x="492" y="474" width="3" height="9" fill="#c0c0c0"/>
<rect x="496" y="470" width="3" height="13" fill="#c0c0c0"/>
<rect x="500" y="467" width="3" height="16" fill="#c0c0c0"/>
<rect x="504" y="468" width="3" height="15" fill="#c0c0c0"/>
<rect x="508" y="472" width="3" height="11" fill="#c0c0c0"/>
<rect x="512" y="478" width="3" height="5" fill="#c0c0c0"/>
<rect x="516" y="483" width="3" height="1" fill="#c0c0c0"/>
<rect x="520" y="483" width="3" height="1" fill="#c0c0c0"/>
<rect x="524" y="481" width="3" height="2" fill="#c0c0c0"/>
<rect x="528" y="483" width="3" height="1" fill="#c0c0c0"/>
<rect x="532" y="483" width="3" height="1" fill="#c0c0c0"/>
<rect x="536" y="483" width="3" height="2" fill="#c0c0c0"/>
<rect x="540" y="483" width="3" height="2" fill="#c0c0c0"/>
<rect x="544" y="482" width="3" height="1" fill="#c0c0c0"/>
<rect x="548" y="478" width="3" height="5" fill="#c0c0c0"/>
<rect x="552" y="473" width="3" height="10" fill="#c0c0c0"/>
<rect x="556" y="471" width="3" height="12" fill="#c0c0c0"/>
<rect x="560" y="474" width="3" height="9" fill="#c0c0c0"/>
<rect x="564" y="477" width="3" height="6" fill="#c0c0c0"/>
<rect x="568" y="481" width="3" height="2" fill="#c0c0c0"/>
<rect x="572" y="483" width="3" height="2" fill="#c0c0c0"/>
<rect x="576" y="483" width="3" height="3" fill="#c0c0c0"/>
<rect x="580" y="483" width="3" height="6" fill="#c0c0c0"/>
<rect x="584" y="483" width="3" height="7" fill="#c0c0c0"/>
<rect x="588" y="483" width="3" height="7" fill="#c0c0c0"/>
<rect x="592" y="483" width="3" height="7" fill="#c0c0c0"/>
<rect x="596" y="483" width="3" height="8" fill="#c0c0c0"/>
<rect x="600" y="483" width="3" height="9" fill="#c0c0c0"/>
<rect x="604" y="483" width="3" height="2" fill="#c0c0c0"/>
<rect x="608" y="480" width="3" height="3" fill="#c0c0c0"/>
<rect x="612" y="478" width="3" height="5" fill="#c0c0c0"/>
<rect x="616" y="477" width="3" height="6" fill="#c0c0c0"/>
<rect x="620" y="476" width="3" height="7" fill="#c0c0c0"/>
<rect x="624" y="475" width="3" height="8" fill="#c0c0c0"/>
<rect x="628" y="473" width="3" height="10" fill="#c0c0c0"/>
<rect x="632" y="472" width="3" height="11" fill="#c0c0c0"/>
<rect x="636" y="467" width="3" height="16" fill="#c0c0c0"/>
<rect x="640" y="461" width="3" height="22" fill="#c0c0c0"/>
<rect x="644" y="458" width="3" height="25" fill="#c0c0c0"/>
<rect x="648" y="459" width="3" height="24" fill="#c0c0c0"/>
<rect x="652" y="459" width="3" height="24" fill="#c0c0c0"/>
<rect x="656" y="464" width="3" height="19" fill="#c0c0c0"/>
<rect x="660" y="470" width="3" height="13" fill="#c0c0c0"/>
<rect x="664" y="473" width="3" height="10" fill="#c0c0c0"/>
<rect x="668" y="476" width="3" height="7" fill="#c0c0c0"/>
<rect x="672" y="476" width="3" height="7" fill="#c0c0c0"/>
<rect x="676" y="482" width="3" height="1" fill="#c0c0c0"/>
<rect x="680" y="483" width="3" height="6" fill="#c0c0c0"/>
<rect x="684" y="483" width="3" height="10" fill="#c0c0c0"/>
<rect x="688" y="483" width="3" height="13" fill="#c0c0c0"/>
<rect x="692" y="483" width="3" height="15" fill="#c0c0c0"/>
<rect x="696" y="483" width="3" height="16" fill="#c0c0c0"/>
<rect x="700" y="483" width="3" height="13" fill="#c0c0c0"/>
<rect x="704" y="483" width="3" height="11" fill="#c0c0c0"/>
<rect x="708" y="483" width="3" height="8" fill="#c0c0c0"/>
<rect x="712" y="483" width="3" height="6" fill="#c0c0c0"/>
<rect x="716" y="483" width="3" height="5" fill="#c0c0c0"/>
<rect x="720" y="483" width="3" height="3" fill="#c0c0c0"/>
<rect x="724" y="483" width="3" height="5" fill="#c0c0c0"/>
<rect x="728" y="483" width="3" height="6" fill="#c0c0c0"/>
<rect x="732" y="483" width="3" height="5" fill="#c0c0c0"/>
<rect x="736" y="483" width="3" height="4" fill="#c0c0c0"/>
<rect x="740" y="483" width="3" height="5" fill="#c0c0c0"/>
<rect x="744" y="483" width="3" height="12" fill="#c0c0c0"/>
<rect x="748" y="483" width="3" height="18" fill="#c0c0c0"/>
<rect x="752" y="483" width="3" height="21" fill="#c0c0c0"/>
<rect x="756" y="483" width="3" height="23" fill="#c0c0c0"/>
<rect x="760" y="483" width="3" height="23" fill="#c0c0c0"/>
<rect x="764" y="483" width="3" height="23" fill="#c0c0c0"/>
<rect x="768" y="483" width="3" height="20" fill="#c0c0c0"/>
<rect x="772" y="483" width="3" height="16" fill="#c0c0c0"/>
<rect x="776" y="483" width="3" height="14" fill="#c0c0c0"/>
<rect x="780" y="483" width="3" height="11" fill="#c0c0c0"/>
<rect x="784" y="483" width="3" height="8" fill="#c0c0c0"/>
<rect x="788" y="483" width="3" height="7" fill="#c0c0c0"/>
<rect x="792" y="483" width="3" height="1" fill="#c0c0c0"/>
<rect x="796" y="481" width="3" height="2" fill="#c0c0c0"/>
<rect x="800" y="479" width="3" height="4" fill="#c0c0c0"/>
<rect x="804" y="479" width="3" height="4" fill="#c0c0c0"/>
<rect x="808" y="475" width="3" height="8" fill="#c0c0c0"/>
<rect x="812" y="473" width="3" height="10" fill="#c0c0c0"/>
<rect x="816" y="468" width="3" height="15" fill="#c0c0c0"/>
<rect x="820" y="462" width="3" height="21" fill="#c0c0c0"/>
<rect x="824" y="459" width="3" height="24" fill="#c0c0c0"/>
<rect x="828" y="462" width="3" height="21" fill="#c0c0c0"/>
<rect x="832" y="464" width="3" height="19" fill="#c0c0c0"/>
<rect x="836" y="462" width="3" height="21" fill="#c0c0c0"/>
<rect x="840" y="454" width="3" height="29" fill="#c0c0c0"/>
<rect x="844" y="451" width="3" height="32" fill="#c0c0c0"/>
<rect x="848" y="452" width="3" height="31" fill="#c0c0c0"/>
<rect x="852" y="447" width="3" height="36" fill="#c0c0c0"/>
<rect x="856" y="447" width="3" height="36" fill="#c0c0c0"/>
<rect x="860" y="446" width="3" height="37" fill="#c0c0c0"/>
<rect x="864" y="449" width="3" height="34" fill="#c0c0c0"/>
<rect x="868" y="455" width="3" height="28" fill="#c0c0c0"/>
<rect x="872" y="458" width="3" height="25" fill="#c0c0c0"/>
<rect x="876" y="466" width="3" height="17" fill="#c0c0c0"/>
<rect x="880" y="470" width="3" height="13" fill="#c0c0c0"/>
<rect x="884" y="474" width="3" height="9" fill="#c0c0c0"/>
<rect x="888" y="475" width="3" height="8" fill="#c0c0c0"/>
<rect x="892" y="473" width="3" height="10" fill="#c0c0c0"/>
<rect x="896" y="473" width="3" height="10" fill="#c0c0c0"/>
<rect x="900" y="475" width="3" height="8" fill="#c0c0c0"/>
<rect x="904" y="477" width="3" height="6" fill="#c0c0c0"/>
<rect x="908" y="477" width="3" height="6" fill="#c0c0c0"/>
<rect x="912" y="477" width="3" height="6" fill="#c0c0c0"/>
<rect x="916" y="480" width="3" height="3" fill="#c0c0c0"/>
<rect x="920" y="483" width="3" height="1" fill="#c0c0c0"/>
<rect x="924" y="482" width="3" height="1" fill="#c0c0c0"/>
<rect x="928" y="483" width="3" height="5" fill="#c0c0c0"/>
<rect x="932" y="483" width="3" height="7" fill="#c0c0c0"/>
<rect x="936" y="483" width="3" height="7" fill="#c0c0c0"/>
<rect x="940" y="483" width="3" height="5" fill="#c0c0c0"/>
<rect x="944" y="482" width="3" height="1" fill="#c0c0c0"/>
<rect x="948" y="482" width="3" height="1" fill="#c0c0c0"/>
<rect x="952" y="477" width="3" height="6" fill="#c0c0c0"/>
<rect x="956" y="471" width="3" height="12" fill="#c0c0c0"/>
<rect x="960" y="467" width="3" height="16" fill="#c0c0c0"/>
<rect x="964" y="464" width="3" height="19" fill="#c0c0c0"/>
<rect x="968" y="462" width="3" height="21" fill="#c0c0c0"/>
<rect x="972" y="463" width="3" height="20" fill="#c0c0c0"/>
<rect x="976" y="464" width="3" height="19" fill="#c0c0c0"/>
<rect x="980" y="465" width="3" height="18" fill="#c0c0c0"/>
<rect x="984" y="467" width="3" height="16" fill="#c0c0c0"/>
<rect x="988" y="467" width="3" height="16" fill="#c0c0c0"/>
<rect x="992" y="468" width="3" height="15" fill="#c0c0c0"/>
<rect x="996" y="470" width="3" height="13" fill="#c0c0c0"/>
<rect x="1000" y="469" width="3" height="14" fill="#c0c0c0"/>
<rect x="1004" y="468" width="3" height="15" fill="#c0c0c0"/>
<rect x="1008" y="468" width="3" height="15" fill="#c0c0c0"/>
<rect x="1012" y="464" width="3" height="19" fill="#c0c0c0"/>
<rect x="1016" y="468" width="3" height="15" fill="#c0c0c0"/>
<rect x="1020" y="478" width="3" height="5" fill="#c0c0c0"/>
<rect x="1024" y="483" width="3" height="5" fill="#c0c0c0"/>
<rect x="1028" y="483" width="3" height="14" fill="#c0c0c0"/>
<rect x="1032" y="483" width="3" height="21" fill="#c0c0c0"/>
</g>
<g clip-path="url(#cpi)">
<polyline points="1.5,512.5 8.5,509.5 16.5,503.5 22.5,497.5 28.5,490.5 34.5,484.5 40.5,479.5 46.5,477.5 56.5,476.5 64.5,476.5 74.5,476.5 84.5,475.5 92.5,472.5 100.5,469.5 108.5,465.5 114.5,462.5 120.5,460.5 130.5,460.5 136.5,465.5 144.5,473.5 152.5,483.5 160.5,492.5 168.5,504.5 176.5,514.5 184.5,523.5 192.5,532.5 198.5,538.5 206.5,541.5 214.5,539.5 222.5,533.5 230.5,524.5 238.5,513.5 248.5,503.5 260.5,491.5 270.5,484.5 274.5,481.5 282.5,473.5 290.5,466.5 298.5,457.5 306.5,449.5 312.5,444.5 317.5,442.5 322.5,441.5 328.5,443.5 333.5,445.5 339.5,451.5 346.5,458.5 353.5,465.5 360.5,468.5 368.5,472.5 378.5,472.5 386.5,473.5 395.5,477.5 402.5,483.5 410.5,489.5 418.5,495.5 425.5,499.5 434.5,501.5 440.5,504.5 448.5,508.5 456.5,510.5 462.5,513.5 467.5,514.5 472.5,514.5 478.5,511.5 484.5,506.5 492.5,498.5 500.5,486.5 506.5,479.5 512.5,476.5 520.5,475.5 527.5,475.5 532.5,477.5 540.5,481.5 548.5,482.5 556.5,480.5 562.5,479.5 570.5,478.5 576.5,479.5 583.5,479.5 590.5,482.5 598.5,486.5 605.5,488.5 612.5,486.5 620.5,484.5 628.5,481.5 636.5,477.5 644.5,471.5 652.5,467.5 657.5,465.5 664.5,465.5 671.5,465.5 676.5,468.5 682.5,473.5 690.5,480.5 698.5,486.5 706.5,491.5 714.5,493.5 720.5,493.5 728.5,490.5 736.5,488.5 742.5,487.5 748.5,489.5 756.5,492.5 764.5,496.5 772.5,500.5 780.5,501.5 786.5,500.5 794.5,496.5 802.5,490.5 810.5,484.5 818.5,479.5 826.5,472.5 834.5,469.5 842.5,464.5 850.5,459.5 858.5,455.5 866.5,452.5 872.5,451.5 878.5,452.5 884.5,456.5 892.5,462.5 900.5,468.5 908.5,472.5 916.5,476.5 924.5,477.5 932.5,480.5 941.5,483.5 950.5,485.5 958.5,483.5 966.5,479.5 974.5,472.5 980.5,468.5 986.5,466.5 993.5,465.5 1000.5,466.5 1008.5,467.5 1018.5,467.5 1024.5,470.5 1029.5,473.5 1033.5,478.5" fill="none" stroke="#ff0000" stroke-width="1" stroke-linejoin="round" shape-rendering="crispEdges"/>
</g>
<path d="M4 42.5 L11 42.5 L7.5 38 Z" fill="#000"/>
<text x="16.5" y="43" font-size="9.8" fill="#000" stroke="#000" stroke-width="0.3" textLength="200.5" lengthAdjust="spacingAndGlyphs" xml:space="preserve">EURUSD,H4  1.13432 1.13500 1.13264 1.13372</text>
<text x="5.5" y="441" font-size="9.8" fill="#000" stroke="#000" stroke-width="0.3" textLength="150" lengthAdjust="spacingAndGlyphs">MACD(12,26,9) -0.001382 0.000420</text>
<g shape-rendering="crispEdges">
<rect x="4" y="51" width="219" height="64" fill="#ffffff"/>
<rect x="4" y="51" width="52" height="24" fill="url(#gbu)"/>
<rect x="171" y="51" width="52" height="24" fill="url(#gbu)"/>
<rect x="4" y="75" width="109" height="40" fill="url(#gbu)"/>
<rect x="115" y="75" width="108" height="40" fill="url(#gbu)"/>
<rect x="4" y="51" width="52" height="1" fill="#1c1ccc"/>
<rect x="171" y="51" width="52" height="1" fill="#1c1ccc"/>
<rect x="4" y="51" width="1" height="64" fill="#1414c4" opacity="0.6"/>
<rect x="222" y="51" width="1" height="64" fill="#1414c4" opacity="0.6"/>
<rect x="55" y="51" width="1" height="24" fill="#1414c4" opacity="0.5"/>
<rect x="171" y="51" width="1" height="24" fill="#1414c4" opacity="0.5"/>
<rect x="8" y="75" width="44" height="1" fill="#8c8cf6"/>
<rect x="175" y="75" width="44" height="1" fill="#8c8cf6"/>
<rect x="58" y="51" width="111" height="22" fill="#b0b0b0"/>
<rect x="59" y="52" width="109" height="20" fill="#ffffff"/>
<rect x="60" y="53" width="19" height="18" fill="url(#gsp)"/>
<rect x="148" y="53" width="19" height="18" fill="url(#gsp)"/>
<rect x="79" y="52" width="1" height="20" fill="#b4b4b4"/>
<rect x="147" y="52" width="1" height="20" fill="#b4b4b4"/>
</g>
<path d="M66 60.2 L71 60.2 L68.5 63.2 Z" fill="#4a62c4"/>
<path d="M155 63.2 L160 63.2 L157.5 60.2 Z" fill="#4a62c4"/>
<text x="143.4" y="65.9" font-size="12.2" fill="#000" text-anchor="end" textLength="23.2" lengthAdjust="spacingAndGlyphs">0.01</text>
<text x="16.9" y="66.7" font-size="12.2" fill="#fff" textLength="25" lengthAdjust="spacingAndGlyphs">SELL</text>
<text x="184.8" y="66.8" font-size="12.2" fill="#fff" textLength="23" lengthAdjust="spacingAndGlyphs">BUY</text>
<text x="24.6" y="105.7" font-size="12.3" font-weight="bold" fill="#fff" textLength="23.3" lengthAdjust="spacingAndGlyphs">1.13</text>
<text x="134.7" y="105.7" font-size="12.3" font-weight="bold" fill="#fff" textLength="23.3" lengthAdjust="spacingAndGlyphs">1.13</text>
<text x="52.5" y="106.4" font-size="35" fill="#fff" stroke="url(#gbu)" stroke-width="0.7" textLength="34" lengthAdjust="spacingAndGlyphs">37</text>
<text x="162.8" y="106.4" font-size="35" fill="#fff" stroke="url(#gbu)" stroke-width="0.7" textLength="34.4" lengthAdjust="spacingAndGlyphs">39</text>
<text x="91.7" y="89.9" font-size="11.5" font-weight="bold" fill="#fff" textLength="6.2" lengthAdjust="spacingAndGlyphs">2</text>
<text x="202.8" y="89.9" font-size="11.5" font-weight="bold" fill="#fff" textLength="6.2" lengthAdjust="spacingAndGlyphs">8</text>
<g shape-rendering="crispEdges" fill="#000">
<rect x="1302" y="60" width="2" height="1"/>
<rect x="1302" y="93" width="2" height="1"/>
<rect x="1302" y="126" width="2" height="1"/>
<rect x="1302" y="159" width="2" height="1"/>
<rect x="1302" y="192" width="2" height="1"/>
<rect x="1302" y="225" width="2" height="1"/>
<rect x="1302" y="258" width="2" height="1"/>
<rect x="1302" y="291" width="2" height="1"/>
<rect x="1302" y="324" width="2" height="1"/>
<rect x="1302" y="357" width="2" height="1"/>
<rect x="1302" y="390" width="2" height="1"/>
<rect x="1302" y="423" width="2" height="1"/>
<rect x="1303" y="253" width="41" height="11" fill="#000"/>
<rect x="1302" y="483" width="2" height="1"/>
<rect x="1302" y="430" width="1" height="1"/>
<rect x="1302" y="551" width="1" height="1"/>
<rect x="1301" y="427" width="1" height="1" fill="#fff"/>
</g>
<text x="1307.5" y="64" font-size="9.8" fill="#000" stroke="#000" stroke-width="0.3" textLength="32.5" lengthAdjust="spacingAndGlyphs">1.14915</text>
<text x="1307.5" y="97" font-size="9.8" fill="#000" stroke="#000" stroke-width="0.3" textLength="32.5" lengthAdjust="spacingAndGlyphs">1.14660</text>
<text x="1307.5" y="130" font-size="9.8" fill="#000" stroke="#000" stroke-width="0.3" textLength="32.5" lengthAdjust="spacingAndGlyphs">1.14400</text>
<text x="1307.5" y="163" font-size="9.8" fill="#000" stroke="#000" stroke-width="0.3" textLength="32.5" lengthAdjust="spacingAndGlyphs">1.14145</text>
<text x="1307.5" y="196" font-size="9.8" fill="#000" stroke="#000" stroke-width="0.3" textLength="32.5" lengthAdjust="spacingAndGlyphs">1.13885</text>
<text x="1307.5" y="229" font-size="9.8" fill="#000" stroke="#000" stroke-width="0.3" textLength="32.5" lengthAdjust="spacingAndGlyphs">1.13630</text>
<text x="1307.5" y="295" font-size="9.8" fill="#000" stroke="#000" stroke-width="0.3" textLength="32.5" lengthAdjust="spacingAndGlyphs">1.13115</text>
<text x="1307.5" y="328" font-size="9.8" fill="#000" stroke="#000" stroke-width="0.3" textLength="32.5" lengthAdjust="spacingAndGlyphs">1.12860</text>
<text x="1307.5" y="361" font-size="9.8" fill="#000" stroke="#000" stroke-width="0.3" textLength="32.5" lengthAdjust="spacingAndGlyphs">1.12600</text>
<text x="1307.5" y="394" font-size="9.8" fill="#000" stroke="#000" stroke-width="0.3" textLength="32.5" lengthAdjust="spacingAndGlyphs">1.12345</text>
<text x="1307.5" y="427" font-size="9.8" fill="#000" stroke="#000" stroke-width="0.3" textLength="32.5" lengthAdjust="spacingAndGlyphs">1.12090</text>
<text x="1307.5" y="262" font-size="9.8" fill="#fff" stroke="#fff" stroke-width="0.25" textLength="32.5" lengthAdjust="spacingAndGlyphs">1.13372</text>
<text x="1305.2" y="439" font-size="9.8" fill="#000" stroke="#000" stroke-width="0.3" textLength="37.3" lengthAdjust="spacingAndGlyphs">0.003847</text>
<text x="1305.3" y="487" font-size="9.8" fill="#000" stroke="#000" stroke-width="0.3" textLength="17.8" lengthAdjust="spacingAndGlyphs">0.00</text>
<text x="1305.4" y="549" font-size="9.8" fill="#000" stroke="#000" stroke-width="0.3" textLength="40.5" lengthAdjust="spacingAndGlyphs">-0.004856</text>
<g shape-rendering="crispEdges" fill="#000">
<rect x="1" y="553" width="1" height="3"/>
<rect x="65" y="553" width="1" height="3"/>
<rect x="129" y="553" width="1" height="3"/>
<rect x="193" y="553" width="1" height="3"/>
<rect x="257" y="553" width="1" height="3"/>
<rect x="321" y="553" width="1" height="3"/>
<rect x="385" y="553" width="1" height="3"/>
<rect x="449" y="553" width="1" height="3"/>
<rect x="513" y="553" width="1" height="3"/>
<rect x="577" y="553" width="1" height="3"/>
<rect x="641" y="553" width="1" height="3"/>
<rect x="705" y="553" width="1" height="3"/>
<rect x="769" y="553" width="1" height="3"/>
<rect x="833" y="553" width="1" height="3"/>
<rect x="897" y="553" width="1" height="3"/>
<rect x="961" y="553" width="1" height="3"/>
<rect x="1025" y="553" width="1" height="3"/>
</g>
<text x="0.6" y="565" font-size="9.8" fill="#000" stroke="#000" stroke-width="0.3" textLength="48.1" lengthAdjust="spacingAndGlyphs">1 Nov 2018</text>
<text x="64.6" y="565" font-size="9.8" fill="#000" stroke="#000" stroke-width="0.3" textLength="52.300000000000004" lengthAdjust="spacingAndGlyphs">6 Nov 04:00</text>
<text x="128.6" y="565" font-size="9.8" fill="#000" stroke="#000" stroke-width="0.3" textLength="52.300000000000004" lengthAdjust="spacingAndGlyphs">8 Nov 23:00</text>
<text x="192.6" y="565" font-size="9.8" fill="#000" stroke="#000" stroke-width="0.3" textLength="56.4" lengthAdjust="spacingAndGlyphs">13 Nov 15:00</text>
<text x="256.6" y="565" font-size="9.8" fill="#000" stroke="#000" stroke-width="0.3" textLength="57.1" lengthAdjust="spacingAndGlyphs">16 Nov 04:00</text>
<text x="320.6" y="565" font-size="9.8" fill="#000" stroke="#000" stroke-width="0.3" textLength="57.1" lengthAdjust="spacingAndGlyphs">20 Nov 23:00</text>
<text x="384.6" y="565" font-size="9.8" fill="#000" stroke="#000" stroke-width="0.3" textLength="56.9" lengthAdjust="spacingAndGlyphs">23 Nov 15:00</text>
<text x="448.6" y="565" font-size="9.8" fill="#000" stroke="#000" stroke-width="0.3" textLength="57.1" lengthAdjust="spacingAndGlyphs">28 Nov 04:00</text>
<text x="512.6" y="565" font-size="9.8" fill="#000" stroke="#000" stroke-width="0.3" textLength="57.1" lengthAdjust="spacingAndGlyphs">30 Nov 23:00</text>
<text x="576.6" y="565" font-size="9.8" fill="#000" stroke="#000" stroke-width="0.3" textLength="50.1" lengthAdjust="spacingAndGlyphs">5 Dec 15:00</text>
<text x="640.6" y="565" font-size="9.8" fill="#000" stroke="#000" stroke-width="0.3" textLength="55.1" lengthAdjust="spacingAndGlyphs">10 Dec 07:00</text>
<text x="704.6" y="565" font-size="9.8" fill="#000" stroke="#000" stroke-width="0.3" textLength="55.1" lengthAdjust="spacingAndGlyphs">12 Dec 23:00</text>
<text x="768.6" y="565" font-size="9.8" fill="#000" stroke="#000" stroke-width="0.3" textLength="54.6" lengthAdjust="spacingAndGlyphs">17 Dec 15:00</text>
<text x="832.6" y="565" font-size="9.8" fill="#000" stroke="#000" stroke-width="0.3" textLength="56.1" lengthAdjust="spacingAndGlyphs">20 Dec 04:00</text>
<text x="896.6" y="565" font-size="9.8" fill="#000" stroke="#000" stroke-width="0.3" textLength="56.1" lengthAdjust="spacingAndGlyphs">24 Dec 23:00</text>
<text x="960.6" y="565" font-size="9.8" fill="#000" stroke="#000" stroke-width="0.3" textLength="55.6" lengthAdjust="spacingAndGlyphs">28 Dec 11:00</text>
<text x="1024.6" y="565" font-size="9.8" fill="#000" stroke="#000" stroke-width="0.3" textLength="49.1" lengthAdjust="spacingAndGlyphs">2 Jan 23:00</text>
<g shape-rendering="crispEdges">
<rect x="0" y="573" width="1347" height="1" fill="#e0e0e0"/>
<rect x="0" y="574" width="1347" height="1" fill="#f0f0f0"/>
<rect x="0" y="575" width="1347" height="1" fill="#000000"/>
<rect x="0" y="575" width="1349" height="1" fill="#000000"/>
<rect x="0" y="576" width="1347" height="19" fill="#f0f0f0"/>
<rect x="0" y="595" width="1347" height="4" fill="#ffffff"/>
<rect x="0" y="599" width="1346" height="1" fill="#b4b4b4"/>
<rect x="0" y="600" width="1349" height="2" fill="#ffffff"/>
<rect x="2" y="575" width="92" height="19" fill="#ffffff"/>
<rect x="2" y="575" width="1" height="19" fill="#000"/>
<rect x="93" y="575" width="1" height="19" fill="#000"/>
<rect x="2" y="593" width="92" height="1" fill="#000"/>
<rect x="94" y="577" width="1" height="18" fill="#808080"/>
<rect x="4" y="594" width="91" height="1" fill="#808080"/>
<rect x="186" y="578" width="1" height="14" fill="#808080"/>
<rect x="274" y="578" width="1" height="14" fill="#808080"/>
<rect x="378" y="578" width="1" height="14" fill="#808080"/>
<rect x="471" y="578" width="1" height="14" fill="#808080"/>
<rect x="554" y="578" width="1" height="14" fill="#808080"/>
<rect x="658" y="578" width="1" height="14" fill="#808080"/>
<rect x="762" y="578" width="1" height="14" fill="#808080"/>
<rect x="838" y="578" width="1" height="14" fill="#808080"/>
</g>
<text x="14.3" y="589.8" font-size="11.8" fill="#000" textLength="67.5" lengthAdjust="spacingAndGlyphs">EURUSD,H4</text>
<text x="105" y="589.8" font-size="11.8" fill="#808080" textLength="70" lengthAdjust="spacingAndGlyphs">AUDUSD,H4</text>
<text x="196" y="589.8" font-size="11.8" fill="#808080" textLength="67.3" lengthAdjust="spacingAndGlyphs">USDCHF,H4</text>
<text x="285" y="589.8" font-size="11.8" fill="#808080" textLength="80.7" lengthAdjust="spacingAndGlyphs">USDCAD,Daily</text>
<text x="388.3" y="589.8" font-size="11.8" fill="#808080" textLength="70.7" lengthAdjust="spacingAndGlyphs">USDCNH,H4</text>
<text x="480" y="589.8" font-size="11.8" fill="#808080" textLength="62.7" lengthAdjust="spacingAndGlyphs">USDJPY,H4</text>
<text x="564.3" y="589.8" font-size="11.8" fill="#808080" textLength="81.7" lengthAdjust="spacingAndGlyphs">XAUUSD,Daily</text>
<text x="669.3" y="589.8" font-size="11.8" fill="#808080" textLength="80" lengthAdjust="spacingAndGlyphs">GBPUSD,Daily</text>
<text x="772.7" y="589.8" font-size="11.8" fill="#808080" textLength="53.3" lengthAdjust="spacingAndGlyphs">SP500,H1</text>
<path d="M1320.3 581 L1320.3 587 L1316.5 584 Z" fill="#989898"/>
<path d="M1335.8 581 L1335.8 587 L1339.6 584 Z" fill="#989898"/>
</svg>
</body></html>
